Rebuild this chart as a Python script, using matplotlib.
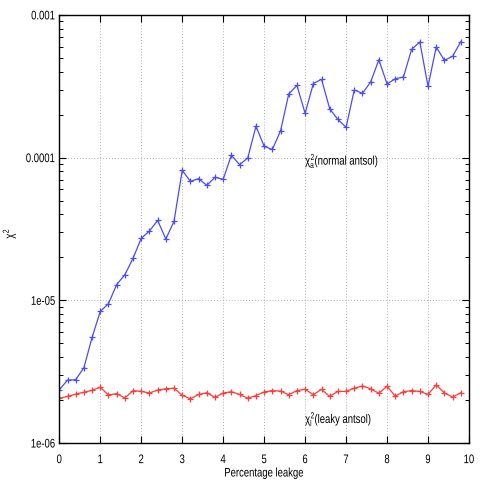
import matplotlib
matplotlib.use("Agg")
import matplotlib.pyplot as plt
from matplotlib.patheffects import AbstractPathEffect
from matplotlib.transforms import Affine2D
from matplotlib.ticker import LogLocator, FixedLocator, NullFormatter

plt.rcParams['font.family'] = ['Liberation Sans', 'DejaVu Sans']
plt.rcParams['mathtext.fontset'] = 'custom'
plt.rcParams['mathtext.rm'] = 'Liberation Sans'
plt.rcParams['mathtext.it'] = 'Liberation Sans'

FS = 9
SQUEEZE = 0.76  # original text is a narrow helvetica


class Squeeze(AbstractPathEffect):
    """draw text glyphs narrower, keeping the aligned edge in place"""

    def __init__(self, sx, anchor='left'):
        super().__init__()
        self.sx = sx
        self.anchor = anchor

    def draw_path(self, renderer, gc, tpath, affine, rgbFace=None):
        xs = tpath.vertices[:, 0]
        if len(xs) == 0:
            return
        if self.anchor == 'right':
            x0 = xs.max()
        elif self.anchor == 'center':
            x0 = 0.5 * (xs.min() + xs.max())
        else:
            x0 = 0.0
        sq = Affine2D().translate(-x0, 0).scale(self.sx, 1).translate(x0, 0)
        renderer.draw_path(gc, tpath, sq + affine, rgbFace)


leakage = [i * 0.2 for i in range(50)]

chi2_normal = [
    2.36e-6, 2.76e-6, 2.78e-6, 3.37e-6, 5.5e-6, 8.37e-6, 9.47e-6, 1.29e-5, 1.51e-5, 1.97e-5,
    2.72e-5, 3.06e-5, 3.63e-5, 2.69e-5, 3.58e-5, 8.15e-5, 6.82e-5, 7.12e-5, 6.39e-5, 7.28e-5,
    7.05e-5, 1.04e-4, 8.92e-5, 9.94e-5, 1.66e-4, 1.2e-4, 1.14e-4, 1.54e-4, 2.79e-4, 3.21e-4,
    2.04e-4, 3.3e-4, 3.54e-4, 2.2e-4, 1.85e-4, 1.63e-4, 2.98e-4, 2.82e-4, 3.39e-4, 4.85e-4,
    3.28e-4, 3.57e-4, 3.67e-4, 5.74e-4, 6.46e-4, 3.16e-4, 5.96e-4, 4.8e-4, 5.13e-4, 6.49e-4,
]

chi2_leaky = [
    2.06e-6, 2.12e-6, 2.2e-6, 2.27e-6, 2.34e-6, 2.46e-6, 2.17e-6, 2.22e-6, 2.07e-6, 2.33e-6,
    2.3e-6, 2.24e-6, 2.35e-6, 2.4e-6, 2.42e-6, 2.16e-6, 2.04e-6, 2.19e-6, 2.25e-6, 2.09e-6,
    2.24e-6, 2.29e-6, 2.19e-6, 2.06e-6, 2.15e-6, 2.28e-6, 2.33e-6, 2.31e-6, 2.18e-6, 2.33e-6,
    2.38e-6, 2.18e-6, 2.38e-6, 2.12e-6, 2.3e-6, 2.3e-6, 2.42e-6, 2.51e-6, 2.4e-6, 2.23e-6,
    2.5e-6, 2.13e-6, 2.29e-6, 2.33e-6, 2.3e-6, 2.19e-6, 2.56e-6, 2.24e-6, 2.1e-6, 2.25e-6,
]

y_ticks = [1e-6, 1e-5, 1e-4, 1e-3]
y_tick_labels = ['1e-06', '1e-05', '0.0001', '0.001']

fig = plt.figure(figsize=(4.85, 4.85), dpi=100)
ax = fig.add_axes([0.1223, 0.0845, 0.8447, 0.8827])

ax.plot(leakage, chi2_normal, color='#4b4bff', lw=0.9, marker='+', ms=5, mew=0.9)
ax.plot(leakage, chi2_leaky, color='#ff3c3c', lw=0.9, marker='+', ms=5, mew=0.9)

ax.set_yscale('log')
ax.set_xlim(0, 10)
ax.set_ylim(1e-6, 1e-3)
ax.set_xticks(range(11))
ax.yaxis.set_major_locator(FixedLocator(y_ticks))
ax.set_yticklabels(y_tick_labels)
ax.yaxis.set_minor_locator(LogLocator(base=10, subs=range(2, 10)))
ax.yaxis.set_minor_formatter(NullFormatter())

ax.tick_params(which='both', direction='in', top=True, right=True, labelsize=FS)
ax.tick_params(which='major', length=5, width=0.8)
ax.tick_params(which='minor', length=3, width=0.7)
ax.tick_params(axis='x', pad=8)
ax.tick_params(axis='y', pad=3)
ax.grid(True, which='major', color='#b0b0b0', ls=(0, (1, 2)), lw=0.7)

for s in ax.spines.values():
    s.set_linewidth(1.0)

ax.set_xlabel('Percentage leakge', fontsize=FS, labelpad=1)
ax.set_ylabel(r'$\chi^2$', fontsize=FS)
ax.yaxis.set_label_coords(-0.1, 0.49)

t1 = ax.text(6.0, 9.5e-5, r'$\chi^2_\mathrm{a}$(normal antsol)', fontsize=FS, va='center', ha='left')
t2 = ax.text(6.0, 1.47e-6, r'$\chi^2_\mathrm{l}$(leaky antsol)', fontsize=FS, va='center', ha='left')

for lab in ax.get_xticklabels():
    lab.set_path_effects([Squeeze(SQUEEZE, 'center')])
for lab in ax.get_yticklabels():
    lab.set_path_effects([Squeeze(SQUEEZE, 'right')])
ax.xaxis.label.set_path_effects([Squeeze(SQUEEZE, 'center')])
ax.yaxis.label.set_path_effects([Squeeze(SQUEEZE, 'center')])
t1.set_path_effects([Squeeze(SQUEEZE, 'left')])
t2.set_path_effects([Squeeze(SQUEEZE, 'left')])

fig.savefig('out.png', dpi=100)
